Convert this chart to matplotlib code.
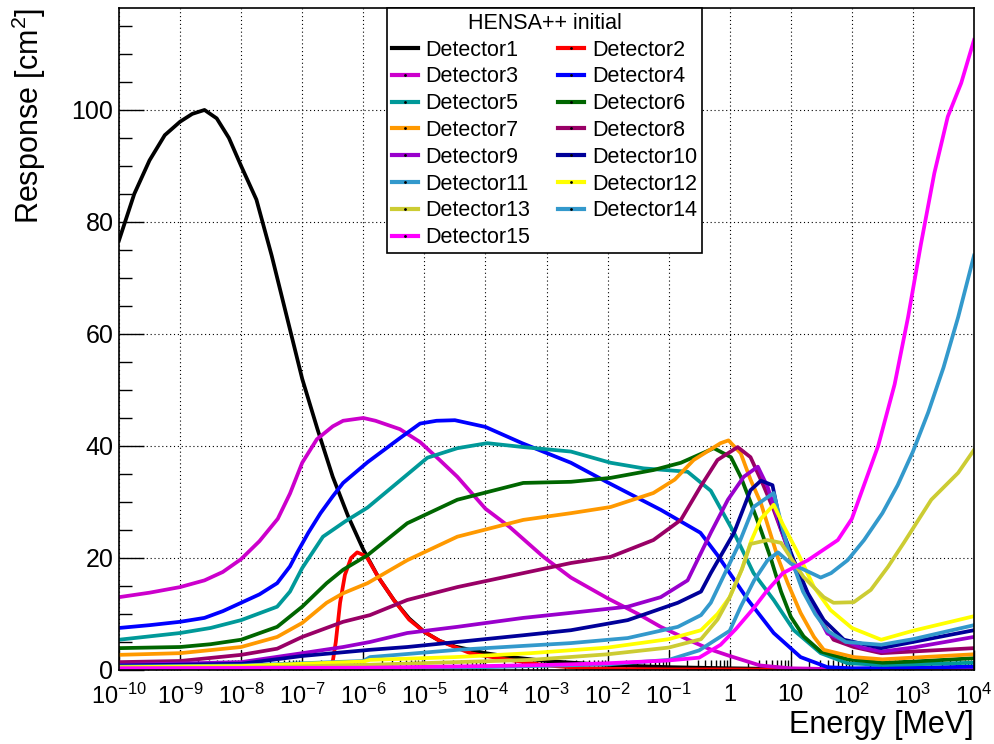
import matplotlib.pyplot as plt
from matplotlib.lines import Line2D
from matplotlib import ticker
import numpy as np

plt.rcParams['font.family'] = ['Liberation Sans', 'DejaVu Sans']
plt.rcParams['mathtext.fontset'] = 'custom'
plt.rcParams['mathtext.rm'] = 'Liberation Sans'
plt.rcParams['mathtext.it'] = 'Liberation Sans:italic'
plt.rcParams['mathtext.bf'] = 'Liberation Sans:bold'

# log10(E / MeV) and response [cm2] for each detector
det1_loge = [-10, -9.75, -9.5, -9.25, -9, -8.8, -8.6, -8.4, -8.2, -8, -7.75, -7.5, -7.25, -7,
             -6.75, -6.5, -6.25, -6, -5.75, -5.5, -5.25, -5, -4.75, -4.5, -4, -3.5, -3, -2,
             -1, 0, 1, 2, 3, 4]
det1_resp = [76.7, 85, 91, 95.5, 97.9, 99.3, 100, 98.5, 95, 90, 84, 74, 63, 52,
             43, 34.5, 27.5, 21.5, 16.5, 12.5, 9.2, 6.8, 5.2, 4.2, 3.0, 2.2, 1.6, 0.9,
             0.5, 0.3, 0.15, 0.1, 0.05, 0.05]

det2_loge = [-10, -6.55, -6.5, -6.45, -6.38, -6.3, -6.2, -6.1, -5.95, -5.75, -5.5, -5.25, -5,
             -4.75, -4.5, -4.25, -4, -3.6, -3, -2.5, -2, -1, 0, 1, 2, 4]
det2_resp = [0, 0, 1.5, 5, 12, 17, 20, 21, 20.3, 16.5, 12.5, 9, 6.8,
             5.2, 4.1, 3.0, 2.5, 1.8, 0.8, 0.4, 0.2, 0.1, 0.1, 0.05, 0, 0]

det3_loge = [-10, -9.5, -9, -8.6, -8.3, -8, -7.7, -7.4, -7.2, -7, -6.76, -6.5, -6.33, -6, -5.8,
             -5.4, -5.07, -4.75, -4.46, -4, -3.6, -3.05, -2.6, -2, -1.5, -1.13, -0.6, -0.3, 0,
             0.5, 1, 2, 4]
det3_resp = [13, 13.8, 14.8, 16, 17.5, 19.8, 23, 27, 31.5, 37, 41.2, 43.5, 44.5, 45, 44.5,
             43, 40.7, 37.5, 34.5, 28.8, 25.5, 20.2, 16.5, 12.8, 10, 7.7, 5, 3.6, 2.5,
             0.8, 0.3, 0.1, 0.05]

det4_loge = [-10, -9.5, -9, -8.6, -8.3, -8, -7.7, -7.41, -7.2, -7.08, -6.9, -6.7, -6.5, -6.33,
             -5.93, -5.4, -5.07, -4.8, -4.5, -4, -3.4, -2.6, -2, -1.13, -0.48, -0.2, 0, 0.3,
             0.72, 1.16, 1.6, 2, 3, 4]
det4_resp = [7.5, 8, 8.6, 9.3, 10.5, 12, 13.5, 15.5, 18.5, 21, 24.5, 28, 31, 33.4,
             37.1, 41.4, 44, 44.5, 44.6, 43.4, 40.5, 37, 33.5, 28.6, 24.5, 20.5, 17.3, 12.5,
             6.6, 2.3, 0.5, 0.3, 0.4, 0.6]

det5_loge = [-10, -9, -8.5, -8, -7.41, -7.2, -7, -6.66, -6.3, -5.93, -5.39, -4.95, -4.46, -3.97,
             -3.38, -2.6, -1.95, -1.41, -0.69, -0.31, 0.07, 0.39, 0.72, 1.05, 1.49, 1.93, 2.5,
             3, 4]
det5_resp = [5.4, 6.6, 7.5, 8.9, 11.3, 14, 18.2, 23.8, 26.5, 29, 33.9, 37.9, 39.6, 40.5,
             39.8, 39, 37, 36, 35.4, 32, 24.5, 17.3, 12.5, 7.1, 3, 1.2, 0.9,
             1.0, 1.3]

det6_loge = [-10, -9, -8.5, -8, -7.41, -7, -6.6, -6.33, -5.93, -5.28, -4.46, -3.38, -2.6, -1.95,
             -1.25, -0.8, -0.26, 0.02, 0.18, 0.34, 0.51, 0.67, 0.84, 1.0, 1.21, 1.49, 1.93, 2.5,
             3, 4]
det6_resp = [3.9, 4.1, 4.6, 5.4, 7.7, 11.3, 15.5, 17.9, 20.5, 26.2, 30.4, 33.4, 33.6, 34.3,
             35.7, 37, 39.6, 38, 34.5, 30, 25, 20, 14, 9.5, 6, 3.3, 1.9, 1.3,
             1.5, 2.1]

det7_loge = [-10, -9, -8, -7.41, -7, -6.6, -6.33, -5.93, -5.28, -4.46, -3.38, -2.6, -1.95, -1.25,
             -0.9, -0.59, -0.15, -0.02, 0.18, 0.34, 0.51, 0.79, 0.95, 1.16, 1.38, 1.54, 2.03,
             2.5, 3, 4]
det7_resp = [2.7, 3, 4.1, 5.9, 8.4, 12, 13.7, 15.5, 19.6, 23.8, 26.8, 28, 29.1, 31.6,
             34, 37.5, 40.5, 41, 38.7, 34, 29.8, 20, 15.5, 10.2, 5.9, 3.6, 2.3,
             1.9, 2.2, 2.8]

det8_loge = [-10, -9, -8, -7.41, -7, -6.33, -5.89, -5.28, -4.46, -3.38, -2.6, -1.95, -1.25, -0.8,
             -0.48, -0.2, 0.13, 0.34, 0.55, 0.72, 0.84, 1.0, 1.16, 1.3, 1.49, 1.7, 2.03, 2.48,
             3, 4]
det8_resp = [1.4, 1.6, 2.7, 3.8, 5.9, 8.6, 9.8, 12.5, 14.8, 17.3, 19.1, 20.2, 23.2, 26.8,
             32.7, 37.5, 39.8, 38, 33, 28.6, 25, 20.5, 16.5, 13, 9, 5.4, 4.1, 3,
             3.3, 3.9]

det9_loge = [-10, -8, -7, -6.33, -5.89, -5.28, -4.46, -3.38, -2.6, -1.67, -1.13, -0.69, -0.31,
             -0.03, 0.23, 0.46, 0.62, 0.79, 1.05, 1.33, 1.6, 2.15, 2.5, 3, 4]
det9_resp = [0.9, 1.4, 3, 4.1, 5, 6.6, 7.7, 9.3, 10.2, 11.3, 13, 16, 24.5,
             30.4, 34.5, 36.3, 32.7, 26.8, 18.4, 12, 6.5, 4, 3.3, 4, 5.9]

det10_loge = [-10, -8, -7, -5.89, -5.28, -4.46, -3.38, -2.6, -1.67, -0.85, -0.47, -0.31, 0.07,
              0.34, 0.51, 0.7, 0.84, 1.05, 1.28, 1.54, 1.87, 2.48, 3, 4]
det10_resp = [0.8, 1.1, 2.5, 3.6, 4.1, 5, 6.2, 7.1, 8.9, 12, 14, 17.3, 24.5,
              32.1, 33.8, 33, 25.5, 19.6, 13.7, 8.9, 5.4, 3.9, 5, 7.1]

det11_loge = [-10, -8, -6, -5.89, -4.46, -3.38, -2.6, -1.67, -0.85, -0.47, -0.31, 0.13, 0.39,
              0.56, 0.72, 0.87, 1.0, 1.2, 1.4, 1.6, 1.9, 2.48, 3, 4]
det11_resp = [0.6, 0.8, 1.6, 2.3, 3.6, 4.3, 4.8, 5.7, 7.7, 9.8, 12, 22, 29.1,
              30.4, 31.6, 25, 20, 14, 10, 7, 5, 4.5, 5.5, 8]

det12_loge = [-10, -8, -6, -5.89, -4.5, -3.26, -2, -1, -0.47, -0.2, 0, 0.2, 0.35, 0.51, 0.72,
              0.87, 1.11, 1.38, 1.65, 2.0, 2.48, 3, 4]
det12_resp = [0.5, 0.7, 1.5, 1.8, 2.3, 3, 4, 5.5, 7.1, 10, 13, 18, 23, 27, 29.5,
              26, 21, 14.8, 10.7, 7.5, 5.4, 7, 9.6]

det13_loge = [-10, -8, -6, -3.26, -2, -1, -0.47, -0.2, 0, 0.2, 0.34, 0.62, 0.84, 1.0, 1.21,
              1.54, 1.7, 2.03, 2.31, 2.59, 2.85, 3.3, 3.74, 4]
det13_resp = [0.3, 0.4, 0.9, 1.8, 2.8, 4, 5.5, 9, 13, 18, 22.5, 23.2, 22.7, 20, 16.6,
              13, 12, 12.1, 14.3, 18.4, 22.7, 30.4, 35.2, 39.3]

det14_loge = [-10, -6, -4, -2, -1, -0.5, 0, 0.18, 0.4, 0.62, 0.79, 1.0, 1.2, 1.49, 1.66, 1.93,
              2.2, 2.5, 2.75, 3.0, 3.25, 3.5, 3.74, 4]
det14_resp = [0.2, 0.3, 0.5, 1.0, 1.8, 3.5, 7, 11.3, 16, 19.6, 21, 19, 18, 16.5, 17.3, 19.6,
              23.2, 28, 33, 39, 46, 54, 63, 74]

det15_loge = [-10, -6, -4, -3, -2, -1, -0.5, -0.15, 0.1, 0.39, 0.6, 0.87, 1.28, 1.77, 2.0,
              2.43, 2.7, 2.92, 3.13, 3.35, 3.57, 3.79, 4]
det15_resp = [0.3, 0.4, 0.7, 0.9, 1.2, 1.7, 2.2, 4.5, 7.3, 11, 14, 17.3, 19.6, 23.2, 27,
              40, 51, 63, 76, 88.7, 98.8, 104.8, 112.5]

labels = ['Detector%d' % i for i in range(1, 16)]
colors = ['#000000', '#ff0000', '#cc00cc', '#0000ff', '#009999', '#006600', '#ff9900',
          '#990066', '#9900cc', '#000099', '#3399cc', '#ffff00', '#cccc33', '#3399cc',
          '#ff00ff']
curves = [(det1_loge, det1_resp), (det2_loge, det2_resp), (det3_loge, det3_resp),
          (det4_loge, det4_resp), (det5_loge, det5_resp), (det6_loge, det6_resp),
          (det7_loge, det7_resp), (det8_loge, det8_resp), (det9_loge, det9_resp),
          (det10_loge, det10_resp), (det11_loge, det11_resp), (det12_loge, det12_resp),
          (det13_loge, det13_resp), (det14_loge, det14_resp), (det15_loge, det15_resp)]

fig = plt.figure(figsize=(9.94, 7.44), dpi=100)
ax = fig.add_axes([0.1197, 0.0995, 0.8602, 0.8897])

handles = []
for (loge, resp), col, lab in zip(curves, colors, labels):
    ax.plot(10.0 ** np.array(loge), resp, color=col, lw=2.7)
    handles.append(Line2D([], [], color=col, lw=3.0, marker='.', markersize=2,
                          markerfacecolor='k', markeredgecolor='k', label=lab))

ax.set_xscale('log')
ax.set_xlim(1e-10, 1e4)
ax.set_ylim(0, 118.2)

# decade labels: 1 and 10 written out, the rest as powers of ten
exps = list(range(-10, 5))
xlabels = []
for e in exps:
    if e == 0:
        xlabels.append('1')
    elif e == 1:
        xlabels.append('10')
    else:
        xlabels.append(r'$\mathdefault{10^{%d}}$' % e)
ax.set_xticks([10.0 ** e for e in exps])
ax.set_xticklabels(xlabels)
ax.xaxis.set_minor_locator(ticker.LogLocator(base=10, subs=np.arange(2, 10), numticks=100))
ax.xaxis.set_minor_formatter(ticker.NullFormatter())

ax.set_yticks(np.arange(0, 101, 20))
ax.set_yticks(np.arange(0, 118, 5), minor=True)

ax.tick_params(axis='both', which='both', direction='in', top=False, right=False, width=1.0)
ax.tick_params(axis='x', which='major', length=14.4, pad=10, labelsize=17)
ax.tick_params(axis='x', which='minor', length=7.2)
ax.tick_params(axis='y', which='major', length=18, pad=4, labelsize=18)
ax.tick_params(axis='y', which='minor', length=9)

ax.grid(True, which='major', color='k', linestyle=(0, (1, 2.5)), lw=0.8)
for s in ax.spines.values():
    s.set_linewidth(1.2)

ax.set_xlabel('Energy [MeV]', fontsize=22, loc='right')
ax.set_ylabel(r'Response [cm$^\mathdefault{2}$]', fontsize=22, loc='top')
ax.xaxis.set_label_coords(1.0, -0.06)
ax.yaxis.set_label_coords(-0.083, 1.0)

order = list(range(0, 15, 2)) + list(range(1, 15, 2))
leg = ax.legend([handles[i] for i in order], [labels[i] for i in order], ncol=2,
                title='HENSA++ initial', fontsize=15.5, title_fontsize=15.5,
                loc='upper left', bbox_to_anchor=(0.3135, 1.0), borderaxespad=0,
                fancybox=False, frameon=True, edgecolor='k', framealpha=1,
                handlelength=1.2, handletextpad=0.37, labelspacing=0.27,
                columnspacing=1.3, borderpad=0.22)
leg.get_frame().set_linewidth(1.2)

fig.savefig('out.png', dpi=100)
